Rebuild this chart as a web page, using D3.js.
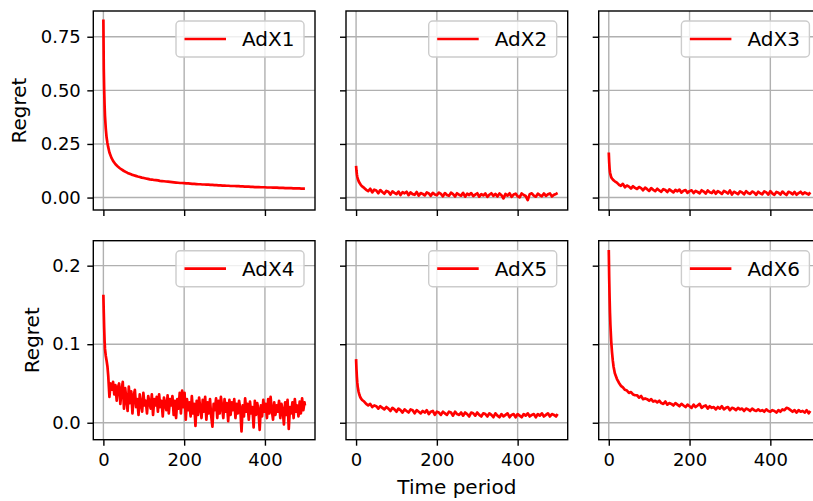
<!DOCTYPE html>
<html>
<head>
<meta charset="utf-8">
<script src="https://cdn.jsdelivr.net/npm/d3@7"></script>
<style>
  body { margin: 0; background: #fff; }
  text { font-family: "DejaVu Sans", sans-serif; }
</style>
</head>
<body>
<div id="chart"></div>
<script>
// time steps the values were read at (denser at the start)
const timeSteps = [0, 1, 2, 3, 4, 6, 8, 10, 12, 15,
  20, 25, 30, 35, 40, 45, 50, 55, 60, 65,
  70, 75, 80, 85, 90, 95, 100, 105, 110, 115,
  120, 125, 130, 135, 140, 145, 150, 155, 160, 165,
  170, 175, 180, 185, 190, 195, 200, 205, 210, 215,
  220, 225, 230, 235, 240, 245, 250, 255, 260, 265,
  270, 275, 280, 285, 290, 295, 300, 305, 310, 315,
  320, 325, 330, 335, 340, 345, 350, 355, 360, 365,
  370, 375, 380, 385, 390, 395, 400, 405, 410, 415,
  420, 425, 430, 435, 440, 445, 450, 455, 460, 465,
  470, 475, 480, 485, 490, 495, 499];

// AdX4 is much noisier, so it was read on a finer grid
const adx4Steps = [0, 1, 2, 3, 4, 6, 8, 10, 12, 15,
  18, 21, 24, 27, 30, 33, 36, 39, 42, 45,
  48, 51, 54, 57, 60, 63, 66, 69, 72, 75,
  78, 81, 84, 87, 90, 93, 96, 99, 102, 105,
  108, 111, 114, 117, 120, 123, 126, 129, 132, 135,
  138, 141, 144, 147, 150, 153, 156, 159, 162, 165,
  168, 171, 174, 177, 180, 183, 186, 189, 192, 195,
  198, 201, 204, 207, 210, 213, 216, 219, 222, 225,
  228, 231, 234, 237, 240, 243, 246, 249, 252, 255,
  258, 261, 264, 267, 270, 273, 276, 279, 282, 285,
  288, 291, 294, 297, 300, 303, 306, 309, 312, 315,
  318, 321, 324, 327, 330, 333, 336, 339, 342, 345,
  348, 351, 354, 357, 360, 363, 366, 369, 372, 375,
  378, 381, 384, 387, 390, 393, 396, 399, 402, 405,
  408, 411, 414, 417, 420, 423, 426, 429, 432, 435,
  438, 441, 444, 447, 450, 453, 456, 459, 462, 465,
  468, 471, 474, 477, 480, 483, 486, 489, 492, 495,
  498, 499];

const adx1 = [.830, .600, .500, .430, .380, .320, .280, .255, .235, .210,
  .185, .168, .155, .146, .138, .131, .125, .120, .115, .111,
  .107, .104, .101, .098, .096, .093, .091, .089, .087, .085,
  .084, .082, .081, .080, .078, .077, .076, .075, .074, .073,
  .072, .071, .070, .069, .068, .068, .067, .066, .066, .065,
  .064, .064, .063, .062, .062, .061, .061, .060, .060, .059,
  .059, .058, .058, .057, .057, .056, .056, .055, .055, .054,
  .054, .054, .053, .053, .052, .052, .051, .051, .051, .050,
  .050, .049, .049, .049, .048, .048, .048, .047, .047, .047,
  .046, .046, .046, .045, .045, .045, .044, .044, .044, .044,
  .043, .043, .043, .043, .042, .042, .042];

const adx2 = [.148, .125, .108, .097, .089, .078, .070, .064, .058, .052,
  .045, .036, .030, .041, .024, .037, .033, .020, .035, .026,
  .018, .031, .027, .014, .029, .022, .016, .028, .012, .025,
  .020, .027, .011, .024, .016, .013, .026, .009, .021, .017,
  .010, .024, .019, .008, .022, .014, .011, .023, .017, .006,
  .021, .012, .008, .023, .016, .005, .020, .013, .009, .022,
  .004, .018, .012, .021, .007, .014, .020, .004, .016, .010,
  .019, .003, .013, .020, .008, .017, .005, .019, .011, -.004,
  .017, .009, .020, .003, .014, .018, .006, .001, .019, .012,
  .007, -.012, .016, .020, .009, .004, .018, .011, .006, .019,
  .008, .015, .019, .005, .013, .017, .021];

const adx3 = [.210, .165, .135, .118, .108, .095, .089, .084, .080, .076,
  .070, .060, .055, .064, .048, .056, .051, .042, .053, .045,
  .040, .049, .044, .034, .046, .039, .031, .044, .036, .030,
  .041, .033, .027, .039, .035, .026, .038, .031, .024, .036,
  .029, .037, .023, .032, .035, .022, .030, .034, .021, .031,
  .026, .020, .034, .028, .019, .033, .025, .021, .032, .018,
  .030, .024, .017, .031, .026, .019, .033, .014, .027, .022,
  .016, .029, .024, .015, .030, .021, .017, .028, .023, .013,
  .027, .020, .015, .029, .024, .014, .030, .019, .013, .026,
  .022, .014, .028, .019, .012, .027, .023, .015, .026, .013,
  .021, .027, .016, .024, .019, .014, .024];

const adx4 = [.163, .140, .120, .104, .094, .085, .079, .072, .060, .033,
  .050, .042, .052, .036, .048, .028, .045, .050, .024, .041,
  .052, .018, .044, .030, .015, .046, .025, .040, .012, .034,
  .042, .020, .030, .010, .036, .024, .014, .038, .022, .028,
  .012, .034, .026, .018, .036, .010, .030, .022, .033, .014,
  .036, .020, .028, .008, .032, .024, .016, .035, .012, .030,
  .022, .034, .010, .028, .006, .030, .018, .038, .012, .041,
  .020, .038, .004, .030, .016, .026, .008, .034, .012, .024,
  -.004, .028, .010, .032, .018, .006, .029, .014, .033, .004,
  .026, .012, .030, .008, -.005, .024, .016, .031, .006, .028,
  .012, .033, .020, .006, .030, .014, .025, .002, .029, .010,
  .026, .016, .030, .006, .024, .012, .028, .018, -.011, .022,
  .008, .031, .014, .024, .004, .027, .012, .020, -.006, .028,
  .010, .025, .016, -.009, .022, .008, .029, .014, .024, .006,
  .030, .012, .033, .016, .004, .026, .010, .022, .014, .028,
  .006, .024, .016, -.002, .026, .010, .029, -.008, .020, .012,
  .026, .006, .030, .014, .022, .008, .027, .012, .031, .016,
  .026, .022];

const adx5 = [.081, .068, .058, .051, .046, .040, .036, .033, .031, .029,
  .027, .024, .022, .024, .020, .022, .021, .018, .021, .019,
  .017, .020, .018, .015, .019, .017, .014, .018, .016, .013,
  .017, .015, .013, .017, .016, .012, .016, .014, .012, .015,
  .013, .016, .011, .014, .015, .010, .014, .013, .010, .014,
  .012, .010, .014, .013, .009, .014, .011, .010, .013, .009,
  .013, .011, .008, .013, .012, .009, .013, .010, .008, .012,
  .011, .008, .012, .010, .007, .012, .009, .007, .011, .008,
  .010, .012, .007, .010, .011, .007, .011, .009, .007, .011,
  .009, .012, .008, .010, .011, .007, .011, .009, .012, .008,
  .010, .012, .008, .011, .010, .008, .011];

const adx6 = [.220, .185, .160, .140, .125, .104, .090, .079, .071, .063,
  .056, .051, .047, .045, .042, .041, .038, .039, .036, .035,
  .035, .032, .034, .030, .031, .030, .028, .030, .027, .028,
  .026, .028, .025, .024, .027, .023, .025, .024, .022, .025,
  .023, .021, .024, .022, .020, .023, .021, .019, .023, .020,
  .022, .024, .019, .021, .022, .018, .021, .019, .020, .017,
  .020, .018, .021, .017, .019, .020, .016, .019, .018, .016,
  .019, .017, .018, .015, .018, .017, .015, .018, .016, .015,
  .017, .015, .016, .014, .017, .015, .014, .016, .015, .013,
  .016, .014, .017, .016, .019, .018, .016, .014, .016, .013,
  .016, .014, .015, .013, .016, .012, .015];

const seriesNames = ["AdX1", "AdX2", "AdX3", "AdX4", "AdX5", "AdX6"];
const seriesValues = [adx1, adx2, adx3, adx4, adx5, adx6];
const seriesTimes = [timeSteps, timeSteps, timeSteps, adx4Steps, timeSteps, timeSteps];

// tick labels
const xTicks = [0, 200, 400];
const yTicksRow = [[0, 0.25, 0.5, 0.75], [0, 0.1, 0.2]];
const yFormatRow = [d3.format(".2f"), d3.format(".1f")];
const yDomainRow = [[-0.058, 0.870], [-0.0216, 0.2318]];
const xDomain = [-24.95, 523.95];

//setting up the chart parameters
const svgWidth = 813;
const svgHeight = 501;
const colLeft = [93.3, 346, 598.7];
const rowTop = [11, 240.7];
const panelW = 221.7;
const panelH = 199;

const svg = d3.select("#chart")
  .append("svg")
  .attr("width", svgWidth)
  .attr("height", svgHeight)
  .style("display", "block");

svg.append("rect")
  .attr("width", svgWidth)
  .attr("height", svgHeight)
  .attr("fill", "#fff");

seriesNames.forEach(function (name, i) {
  const row = Math.floor(i / 3);
  const col = i % 3;
  const times = seriesTimes[i];

  const x = d3.scaleLinear().domain(xDomain).range([0, panelW]);
  const y = d3.scaleLinear().domain(yDomainRow[row]).range([panelH, 0]);

  const g = svg.append("g")
    .attr("transform", `translate(${colLeft[col]}, ${rowTop[row]})`);

  //grid lines
  g.selectAll(".vgrid").data(xTicks).enter().append("line")
    .attr("x1", d => x(d)).attr("x2", d => x(d))
    .attr("y1", 0).attr("y2", panelH)
    .attr("stroke", "#b0b0b0").attr("stroke-width", 1.4);
  g.selectAll(".hgrid").data(yTicksRow[row]).enter().append("line")
    .attr("x1", 0).attr("x2", panelW)
    .attr("y1", d => y(d)).attr("y2", d => y(d))
    .attr("stroke", "#b0b0b0").attr("stroke-width", 1.4);

  //clip the line to the axes box
  const clipId = "clip" + i;
  g.append("clipPath").attr("id", clipId)
    .append("rect").attr("width", panelW).attr("height", panelH);

  const line = d3.line()
    .x((d, j) => x(times[j]))
    .y(d => y(d));

  g.append("path")
    .datum(seriesValues[i])
    .attr("clip-path", `url(#${clipId})`)
    .attr("d", line)
    .attr("fill", "none")
    .attr("stroke", "#ff0000")
    .attr("stroke-width", 2.7)
    .attr("stroke-linejoin", "round");

  //axes
  const bottomAxis = d3.axisBottom(x).tickValues(xTicks).tickSize(6).tickPadding(8)
    .tickFormat(row === 1 ? d3.format("d") : () => "");
  const leftAxis = d3.axisLeft(y).tickValues(yTicksRow[row]).tickSize(6).tickPadding(6.5)
    .tickFormat(col === 0 ? yFormatRow[row] : () => "");

  const xg = g.append("g")
    .attr("transform", `translate(0, ${panelH})`)
    .call(bottomAxis);
  const yg = g.append("g").call(leftAxis);

  [xg, yg].forEach(function (ax) {
    ax.select(".domain").remove();
    ax.selectAll(".tick line").attr("stroke", "#000").attr("stroke-width", 1.4);
    ax.selectAll(".tick text")
      .attr("fill", "#000")
      .style("font-size", "18px")
      .style("font-family", "'DejaVu Sans', sans-serif");
  });

  //frame
  g.append("rect")
    .attr("width", panelW).attr("height", panelH)
    .attr("fill", "none")
    .attr("stroke", "#000")
    .attr("stroke-width", 1.4);

  //legend
  const legW = 128, legH = 36;
  const leg = g.append("g")
    .attr("transform", `translate(${panelW - 11 - legW}, 10)`);
  leg.append("rect")
    .attr("width", legW).attr("height", legH)
    .attr("rx", 4).attr("ry", 4)
    .attr("fill", "#fff").attr("fill-opacity", 0.8)
    .attr("stroke", "#cccccc").attr("stroke-width", 1.4);
  leg.append("line")
    .attr("x1", 8.5).attr("x2", 50)
    .attr("y1", legH / 2).attr("y2", legH / 2)
    .attr("stroke", "#ff0000").attr("stroke-width", 2.7);
  leg.append("text")
    .attr("x", 66)
    .attr("y", legH / 2 + 7)
    .style("font-size", "20px")
    .attr("fill", "#000")
    .text(name);

  //y label on the first column
  if (col === 0) {
    g.append("text")
      .attr("transform", `translate(${row === 0 ? -67 : -54}, ${panelH / 2}) rotate(-90)`)
      .attr("text-anchor", "middle")
      .style("font-size", "20px")
      .attr("fill", "#000")
      .text("Regret");
  }
});

//x label under the middle panel
svg.append("text")
  .attr("x", colLeft[1] + panelW / 2)
  .attr("y", 494)
  .attr("text-anchor", "middle")
  .style("font-size", "20px")
  .attr("fill", "#000")
  .text("Time period");
</script>
</body>
</html>
